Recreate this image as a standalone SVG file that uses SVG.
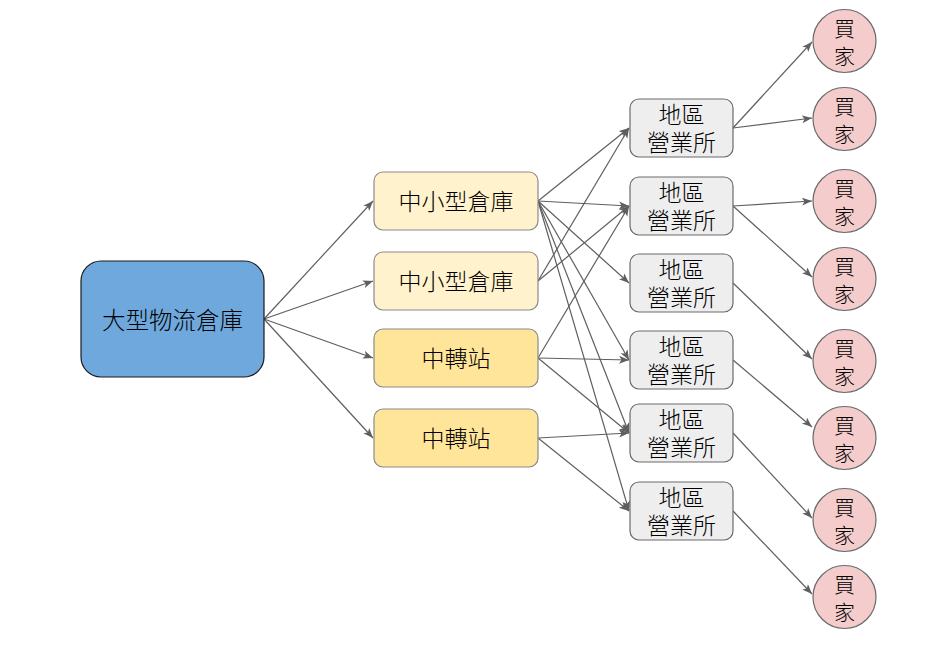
<svg xmlns="http://www.w3.org/2000/svg" width="926" height="646" viewBox="0 0 926 646">
<style>
text{font-family:"Noto Sans CJK TC","Noto Sans CJK SC",sans-serif;font-size:23px;font-weight:300;fill:#000;text-anchor:middle;dominant-baseline:central}
.e{stroke:#5f5f5f;stroke-width:1.2;fill:none;marker-end:url(#a)}
.main{fill:#6fa8dc;stroke:#1a1a1a;stroke-width:1.2}
.mid1{fill:#fff2cc;stroke:#8a8a8a;stroke-width:1.2}
.mid2{fill:#ffe599;stroke:#8a8a8a;stroke-width:1.2}
.reg{fill:#eeeeee;stroke:#6a6a6a;stroke-width:1.2}
.buy{fill:#f4cccc;stroke:#6a6a6a;stroke-width:1.2}
</style>
<defs>
<marker id="a" markerUnits="userSpaceOnUse" markerWidth="11" markerHeight="9" refX="10" refY="4" orient="auto" viewBox="0 0 11 9">
<path d="M0,0 L10,4 L0,8 L2.5,4 z" fill="#5f5f5f"/>
</marker>
</defs>
<rect width="926" height="646" fill="#fff"/>
<g id="connectors">
<line class="e" x1="264" y1="319" x2="373" y2="201"/>
<line class="e" x1="264" y1="319" x2="373" y2="281"/>
<line class="e" x1="264" y1="319" x2="373" y2="358"/>
<line class="e" x1="264" y1="319" x2="373" y2="438"/>
<line class="e" x1="538" y1="201" x2="629" y2="128"/>
<line class="e" x1="538" y1="201" x2="629" y2="206"/>
<line class="e" x1="538" y1="201" x2="629" y2="283"/>
<line class="e" x1="538" y1="201" x2="629" y2="360"/>
<line class="e" x1="538" y1="201" x2="629" y2="433"/>
<line class="e" x1="538" y1="201" x2="629" y2="511"/>
<line class="e" x1="538" y1="281" x2="629" y2="128"/>
<line class="e" x1="538" y1="281" x2="629" y2="206"/>
<line class="e" x1="538" y1="358" x2="629" y2="206"/>
<line class="e" x1="538" y1="358" x2="629" y2="360"/>
<line class="e" x1="538" y1="358" x2="629" y2="433"/>
<line class="e" x1="538" y1="438" x2="629" y2="433"/>
<line class="e" x1="538" y1="438" x2="629" y2="511"/>
<line class="e" x1="733" y1="128" x2="812" y2="42"/>
<line class="e" x1="733" y1="128" x2="812" y2="118"/>
<line class="e" x1="733" y1="206" x2="812" y2="201"/>
<line class="e" x1="733" y1="206" x2="812" y2="277"/>
<line class="e" x1="733" y1="283" x2="812" y2="359"/>
<line class="e" x1="733" y1="360" x2="812" y2="427"/>
<line class="e" x1="733" y1="433" x2="812" y2="518"/>
<line class="e" x1="733" y1="511" x2="812" y2="594"/>
</g>
<g id="warehouse"><rect class="main" x="81" y="261" width="183" height="116" rx="20"/><text x="172.5" y="319" style="font-size:23.5px">大型物流倉庫</text></g>
<g id="mid1"><rect class="mid1" x="374" y="172" width="164" height="58" rx="9"/><text x="456" y="200">中小型倉庫</text></g>
<g id="mid2"><rect class="mid1" x="374" y="252" width="164" height="58" rx="9"/><text x="456" y="280">中小型倉庫</text></g>
<g id="hub1"><rect class="mid2" x="374" y="329" width="164" height="58" rx="9"/><text x="456" y="357">中轉站</text></g>
<g id="hub2"><rect class="mid2" x="374" y="409" width="164" height="58" rx="9"/><text x="456" y="437">中轉站</text></g>
<g id="r1"><rect class="reg" x="630" y="99" width="103" height="58" rx="9"/><text x="681.5" y="113">地區</text><text x="681.5" y="141">營業所</text></g>
<g id="r2"><rect class="reg" x="630" y="177" width="103" height="58" rx="9"/><text x="681.5" y="191">地區</text><text x="681.5" y="219">營業所</text></g>
<g id="r3"><rect class="reg" x="630" y="254" width="103" height="58" rx="9"/><text x="681.5" y="268">地區</text><text x="681.5" y="296">營業所</text></g>
<g id="r4"><rect class="reg" x="630" y="331" width="103" height="58" rx="9"/><text x="681.5" y="345">地區</text><text x="681.5" y="373">營業所</text></g>
<g id="r5"><rect class="reg" x="630" y="404" width="103" height="58" rx="9"/><text x="681.5" y="418">地區</text><text x="681.5" y="446">營業所</text></g>
<g id="r6"><rect class="reg" x="630" y="482" width="103" height="58" rx="9"/><text x="681.5" y="496">地區</text><text x="681.5" y="524">營業所</text></g>
<g id="b1"><circle class="buy" cx="844.5" cy="41" r="31.5"/><text x="844.5" y="26.5" style="font-size:21px">買</text><text x="844.5" y="54.5" style="font-size:21px">家</text></g>
<g id="b2"><circle class="buy" cx="844.5" cy="119" r="31.5"/><text x="844.5" y="104.5" style="font-size:21px">買</text><text x="844.5" y="132.5" style="font-size:21px">家</text></g>
<g id="b3"><circle class="buy" cx="844.5" cy="201" r="31.5"/><text x="844.5" y="186.5" style="font-size:21px">買</text><text x="844.5" y="214.5" style="font-size:21px">家</text></g>
<g id="b4"><circle class="buy" cx="844.5" cy="279" r="31.5"/><text x="844.5" y="264.5" style="font-size:21px">買</text><text x="844.5" y="292.5" style="font-size:21px">家</text></g>
<g id="b5"><circle class="buy" cx="844.5" cy="361" r="31.5"/><text x="844.5" y="346.5" style="font-size:21px">買</text><text x="844.5" y="374.5" style="font-size:21px">家</text></g>
<g id="b6"><circle class="buy" cx="844.5" cy="438" r="31.5"/><text x="844.5" y="423.5" style="font-size:21px">買</text><text x="844.5" y="451.5" style="font-size:21px">家</text></g>
<g id="b7"><circle class="buy" cx="844.5" cy="520" r="31.5"/><text x="844.5" y="505.5" style="font-size:21px">買</text><text x="844.5" y="533.5" style="font-size:21px">家</text></g>
<g id="b8"><circle class="buy" cx="844.5" cy="597" r="31.5"/><text x="844.5" y="582.5" style="font-size:21px">買</text><text x="844.5" y="610.5" style="font-size:21px">家</text></g>
</svg>
